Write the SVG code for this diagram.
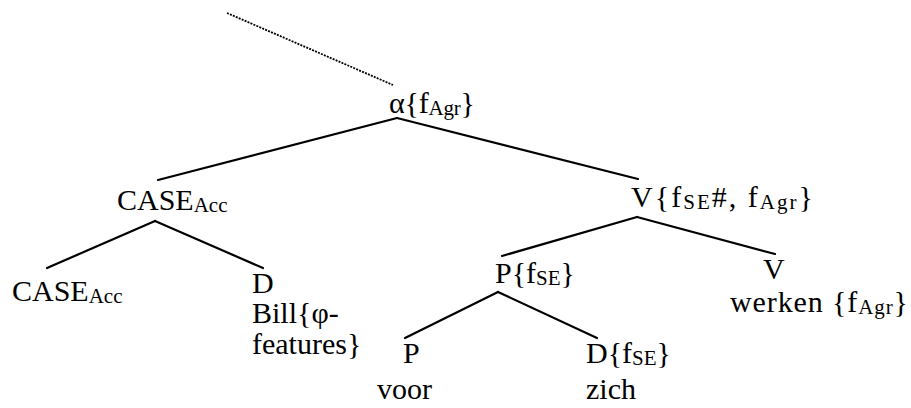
<svg xmlns="http://www.w3.org/2000/svg" width="911" height="408" viewBox="0 0 911 408">
<style>
text{font-family:'Liberation Serif','Times New Roman','DejaVu Serif',serif;font-size:30px;fill:#000}
.s{font-size:21px}
.e{stroke:#000;stroke-width:2.2;fill:none;stroke-linecap:round}
.d{stroke:#000;stroke-width:1.8;stroke-dasharray:2 1.2;fill:none}
</style>
<rect width="911" height="408" fill="#fff"/>
<g id="connectors">
<line class="d" x1="227" y1="13" x2="393" y2="85"/>
<line class="e" x1="397" y1="118" x2="158" y2="180"/>
<line class="e" x1="397" y1="118" x2="638" y2="179"/>
<line class="e" x1="155" y1="221" x2="47" y2="268"/>
<line class="e" x1="155" y1="221" x2="263" y2="268"/>
<line class="e" x1="637" y1="217" x2="502" y2="256"/>
<line class="e" x1="637" y1="217" x2="775" y2="254"/>
<line class="e" x1="498" y1="292" x2="405" y2="338"/>
<line class="e" x1="498" y1="292" x2="597" y2="338"/>
</g>
<g font-family="Liberation Serif, serif">
<g id="alpha"><text x="389" y="113" textLength="86" lengthAdjust="spacing">α{f<tspan class="s" dy="2">Agr</tspan><tspan dy="-2">}</tspan></text></g>
<g id="case-top"><text x="117" y="210">CASE<tspan class="s" dy="2">Acc</tspan></text></g>
<g id="v-top"><text x="631" y="207" textLength="182" lengthAdjust="spacing">V{f<tspan class="s" dy="2">SE</tspan><tspan dy="-2">#, f</tspan><tspan class="s" dy="2">Agr</tspan><tspan dy="-2">}</tspan></text></g>
<g id="case-leaf"><text x="12" y="301">CASE<tspan class="s" dy="2">Acc</tspan></text></g>
<g id="d-bill"><text x="252" y="293">D</text><text x="252" y="323">Bill{φ-</text><text x="252" y="354">features}</text></g>
<g id="p-top"><text x="495" y="283">P{f<tspan class="s" dy="2">SE</tspan><tspan dy="-2">}</tspan></text></g>
<g id="v-leaf"><text x="763" y="279">V</text><text x="730" y="312" textLength="178" lengthAdjust="spacing">werken {f<tspan class="s" dy="2">Agr</tspan><tspan dy="-2">}</tspan></text></g>
<g id="p-leaf"><text x="403" y="363">P</text><text x="377" y="399">voor</text></g>
<g id="d-zich"><text x="586" y="363">D{f<tspan class="s" dy="2">SE</tspan><tspan dy="-2">}</tspan></text><text x="586" y="399">zich</text></g>
</g>
</svg>
